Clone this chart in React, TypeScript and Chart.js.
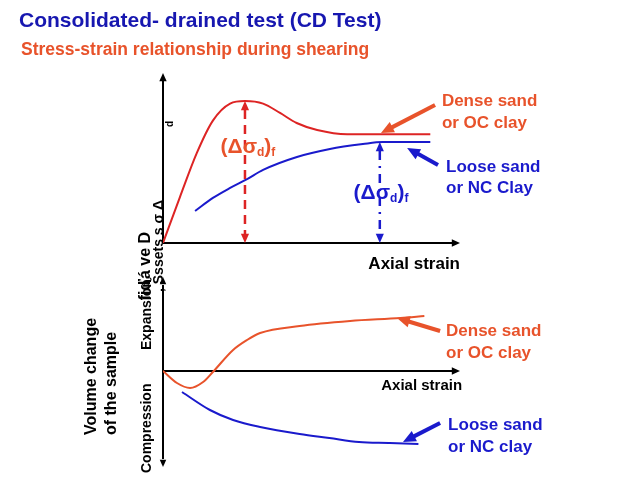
import React, { useEffect, useRef } from "react";
import { Chart, registerables } from "chart.js";
Chart.register(...registerables);

// ---- data (axial strain in % of axis length, stress / volume in relative units) ----
const denseStressX = [0, 5.7, 11.4, 16.8, 22.6, 27.6, 33.7, 39.4, 45, 51.9, 62, 73, 90];
const denseStressY = [0, 27, 53, 72, 82, 83.5, 82, 76.5, 70.6, 66.5, 64, 64, 64];
const looseStressX = [10.8, 16.8, 22.6, 28.3, 33.7, 45.1, 56.2, 67.3, 74, 90];
const looseStressY = [18.8, 26.5, 32.4, 37.6, 43, 50.6, 55.3, 58.2, 59.4, 59.4];
const denseVolX = [0, 4.7, 9.1, 13.5, 16.8, 23.6, 28.3, 32.7, 46, 63, 80, 88];
const denseVolY = [0, -12, -17, -11, -1, 21, 31, 38, 45, 50, 53, 55];
const looseVolX = [6.4, 15.8, 23.6, 32.7, 46, 56, 66, 76, 86];
const looseVolY = [-21, -39, -49, -56, -63, -67, -71, -72, -73];
const denseFailure = { x: 27.6, y: 83.5 };
const looseFailure = { x: 73, y: 59.4 };

const titleText = "Consolidated- drained test (CD Test)";
const subtitleText = "Stress-strain relationship during shearing";

const RED = "#dd2424";
const ORANGE = "#e8532b";
const BLUE = "#1a1acc";
const TITLE_BLUE = "#1717b0";
const FONT = "'Liberation Sans', Arial, sans-serif";

const pts = (xs: number[], ys: number[]) => xs.map((x, i) => ({ x, y: ys[i] }));

function head(ctx: CanvasRenderingContext2D, x1: number, y1: number, x2: number, y2: number, size: number, color: string) {
  const a = Math.atan2(y2 - y1, x2 - x1);
  ctx.save();
  ctx.setLineDash([]);
  ctx.beginPath();
  ctx.moveTo(x2, y2);
  ctx.lineTo(x2 - size * Math.cos(a - 0.42), y2 - size * Math.sin(a - 0.42));
  ctx.lineTo(x2 - size * Math.cos(a + 0.42), y2 - size * Math.sin(a + 0.42));
  ctx.closePath();
  ctx.fillStyle = color;
  ctx.fill();
  ctx.restore();
}

function line(ctx: CanvasRenderingContext2D, x1: number, y1: number, x2: number, y2: number, color: string, w: number, dash: number[] = []) {
  ctx.save();
  ctx.strokeStyle = color;
  ctx.lineWidth = w;
  ctx.setLineDash(dash);
  ctx.beginPath();
  ctx.moveTo(x1, y1);
  ctx.lineTo(x2, y2);
  ctx.stroke();
  ctx.restore();
}

function arrow(ctx: CanvasRenderingContext2D, x1: number, y1: number, x2: number, y2: number, color: string, w: number, size: number) {
  const a = Math.atan2(y2 - y1, x2 - x1);
  const back = size * 0.8;
  line(ctx, x1, y1, x2 - back * Math.cos(a), y2 - back * Math.sin(a), color, w);
  head(ctx, x1, y1, x2, y2, size, color);
}

function text(ctx: CanvasRenderingContext2D, s: string, x: number, y: number, size: number, color: string, align: CanvasTextAlign = "left", rot = 0) {
  ctx.save();
  ctx.font = `bold ${size}px ${FONT}`;
  ctx.fillStyle = color;
  ctx.textAlign = align;
  ctx.textBaseline = "middle";
  ctx.translate(x, y);
  if (rot) ctx.rotate(rot);
  ctx.fillText(s, 0, 0);
  ctx.restore();
}

function deltaLabel(ctx: CanvasRenderingContext2D, cx: number, cy: number, color: string) {
  const parts: [string, number, number][] = [["(Δσ", 21, 0], ["d", 12, 6], [")", 21, 0], ["f", 12, 6]];
  ctx.save();
  ctx.fillStyle = color;
  ctx.textBaseline = "middle";
  let w = 0;
  for (const [s, sz] of parts) {
    ctx.font = `bold ${sz}px ${FONT}`;
    w += ctx.measureText(s).width;
  }
  let x = cx - w / 2;
  for (const [s, sz, dy] of parts) {
    ctx.font = `bold ${sz}px ${FONT}`;
    ctx.fillText(s, x, cy + dy);
    x += ctx.measureText(s).width;
  }
  ctx.restore();
}

const topDecor = {
  id: "topDecor",
  beforeDatasetsDraw(chart: any) {
    const { ctx, chartArea: a } = chart;
    line(ctx, a.left, a.bottom, a.left, a.top + 8, "#000", 2);
    head(ctx, a.left, a.bottom, a.left, a.top, 9, "#000");
    line(ctx, a.left, a.bottom, a.right - 8, a.bottom, "#000", 2);
    head(ctx, a.left, a.bottom, a.right, a.bottom, 9, "#000");
  },
  afterDatasetsDraw(chart: any) {
    const { ctx, chartArea: a } = chart;
    const X = (v: number) => chart.scales.x.getPixelForValue(v);
    const Y = (v: number) => chart.scales.y.getPixelForValue(v);
    // title block
    text(ctx, titleText, 19, 21, 21, TITLE_BLUE);
    text(ctx, subtitleText, 21, 50, 17.5, ORANGE);
    // failure indicators
    const rx = X(denseFailure.x);
    line(ctx, rx, Y(denseFailure.y) + 9, rx, a.bottom - 9, RED, 2.5, [9, 6]);
    head(ctx, rx, a.bottom, rx, Y(denseFailure.y), 10, RED);
    head(ctx, rx, Y(denseFailure.y), rx, a.bottom, 10, RED);
    const bx = X(looseFailure.x);
    line(ctx, bx, Y(looseFailure.y) + 9, bx, a.bottom - 9, BLUE, 2.5, [9, 6, 2, 6]);
    head(ctx, bx, a.bottom, bx, Y(looseFailure.y), 10, BLUE);
    head(ctx, bx, Y(looseFailure.y), bx, a.bottom, 10, BLUE);
    deltaLabel(ctx, X(28.6), Y(56.5), ORANGE);
    deltaLabel(ctx, X(73.4), Y(29.4), BLUE);
    // legends
    text(ctx, "Dense sand", X(93.9), Y(83.5), 17, ORANGE);
    text(ctx, "or OC clay", X(93.9), Y(70.6), 17, ORANGE);
    arrow(ctx, X(91.6), Y(81.2), X(73.4), Y(64.7), ORANGE, 4, 14);
    text(ctx, "Loose sand", X(95.3), Y(44.7), 17, BLUE);
    text(ctx, "or NC Clay", X(95.3), Y(32.4), 17, BLUE);
    arrow(ctx, X(92.6), Y(45.9), X(82.2), Y(55.9), BLUE, 4, 14);
    text(ctx, "Axial strain", X(100), Y(-12.4), 17, "#000", "right");
    // y-axis label (as rendered in the source)
    text(ctx, "fiďá ve D", X(-5.7), Y(6.5), 16, "#000", "right", -Math.PI / 2);
    text(ctx, ", Šssets s σ Δ", X(-1.2), Y(25.3), 14, "#000", "right", -Math.PI / 2);
    text(ctx, "d", X(2.4), Y(70), 10, "#000", "center", -Math.PI / 2);
  },
};

const botDecor = {
  id: "botDecor",
  beforeDatasetsDraw(chart: any) {
    const { ctx, chartArea: a } = chart;
    const Y = (v: number) => chart.scales.y.getPixelForValue(v);
    line(ctx, a.left, a.top + 8, a.left, a.bottom - 8, "#000", 2);
    head(ctx, a.left, a.bottom, a.left, a.top, 8, "#000");
    head(ctx, a.left, a.top, a.left, a.bottom, 8, "#000");
    line(ctx, a.left, Y(0), a.right - 8, Y(0), "#000", 2);
    head(ctx, a.left, Y(0), a.right, Y(0), 9, "#000");
  },
  afterDatasetsDraw(chart: any) {
    const { ctx } = chart;
    const X = (v: number) => chart.scales.x.getPixelForValue(v);
    const Y = (v: number) => chart.scales.y.getPixelForValue(v);
    text(ctx, "Dense sand", X(95.3), Y(40), 17, ORANGE);
    text(ctx, "or OC clay", X(95.3), Y(18), 17, ORANGE);
    arrow(ctx, X(93.3), Y(40), X(78.8), Y(53), ORANGE, 4, 14);
    text(ctx, "Axial strain", X(100.7), Y(-15), 15, "#000", "right");
    text(ctx, "Loose sand", X(96), Y(-54), 17, BLUE);
    text(ctx, "or NC clay", X(96), Y(-76), 17, BLUE);
    arrow(ctx, X(93.3), Y(-52), X(80.8), Y(-71), BLUE, 4, 14);
    text(ctx, "Volume change", X(-24.2), Y(-64), 16, "#000", "left", -Math.PI / 2);
    text(ctx, "of the sample", X(-17.2), Y(-64), 16, "#000", "left", -Math.PI / 2);
    text(ctx, "Expansion", X(-5.4), Y(21), 14, "#000", "left", -Math.PI / 2);
    text(ctx, "Compression", X(-5.4), Y(-102), 14, "#000", "left", -Math.PI / 2);
  },
};

function baseOptions(padding: any, ymin: number, ymax: number) {
  return {
    responsive: false,
    animation: false as const,
    layout: { padding },
    plugins: { legend: { display: false }, tooltip: { enabled: false }, title: { display: false } },
    elements: { point: { radius: 0 }, line: { borderWidth: 2, cubicInterpolationMode: "monotone" as const } },
    scales: {
      x: { type: "linear" as const, min: 0, max: 100, display: false },
      y: { type: "linear" as const, min: ymin, max: ymax, display: false },
    },
  };
}

export default function App() {
  const topRef = useRef<HTMLCanvasElement>(null);
  const botRef = useRef<HTMLCanvasElement>(null);
  useEffect(() => {
    const top = new Chart(topRef.current!, {
      type: "line",
      data: {
        datasets: [
          { label: "Dense sand or OC clay", data: pts(denseStressX, denseStressY), borderColor: RED, borderWidth: 2 },
          { label: "Loose sand or NC Clay", data: pts(looseStressX, looseStressY), borderColor: BLUE, borderWidth: 2 },
        ],
      },
      options: baseOptions({ left: 163, right: 178, top: 73, bottom: 236 }, 0, 100) as any,
      plugins: [topDecor],
    });
    const bot = new Chart(botRef.current!, {
      type: "line",
      data: {
        datasets: [
          { label: "Dense sand or OC clay", data: pts(denseVolX, denseVolY), borderColor: ORANGE, borderWidth: 2 },
          { label: "Loose sand or NC clay", data: pts(looseVolX, looseVolY), borderColor: BLUE, borderWidth: 2 },
        ],
      },
      options: baseOptions({ left: 163, right: 178, top: 277, bottom: 12 }, -96, 94) as any,
      plugins: [botDecor],
    });
    return () => {
      top.destroy();
      bot.destroy();
    };
  }, []);
  const cs: React.CSSProperties = { position: "absolute", left: 0, top: 0 };
  return (
    <div style={{ position: "absolute", left: 0, top: 0, width: 638, height: 479, background: "#fff" }}>
      <canvas ref={topRef} width={638} height={479} style={cs} />
      <canvas ref={botRef} width={638} height={479} style={cs} />
    </div>
  );
}
